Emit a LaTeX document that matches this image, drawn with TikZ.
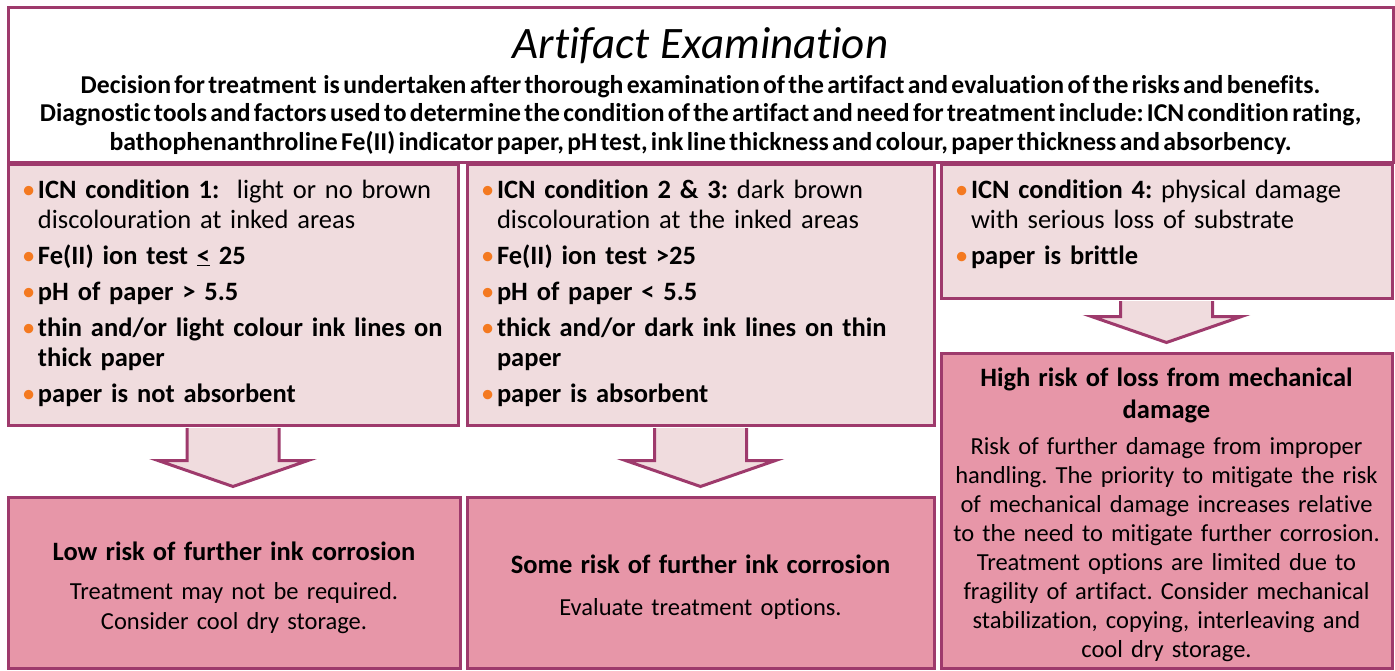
\documentclass[tikz,border=0pt]{standalone}
\usepackage{fontspec}
\setmainfont{Carlito}[Ligatures=NoCommon]
\usetikzlibrary{calc}
\definecolor{framepurple}{RGB}{158,58,108}
\definecolor{lightrose}{RGB}{240,220,222}
\definecolor{deeprose}{RGB}{231,150,168}
\definecolor{bulletorange}{RGB}{244,121,32}
\newcommand\condfont{\fontsize{26.5}{30}\selectfont\frenchspacing}
\newcommand\riskfont{\fontsize{24.5}{30}\selectfont\frenchspacing}
% one bullet line with hanging indent
\newcommand\itm[1]{\par\vspace{6pt}\noindent\hangindent=16pt\hangafter=1%
  \makebox[16pt][l]{\textcolor{bulletorange}{\textbullet}}#1\par}
\newcommand\firstitm[1]{\noindent\hangindent=16pt\hangafter=1%
  \makebox[16pt][l]{\textcolor{bulletorange}{\textbullet}}#1\par}
% block arrow from one box down to the next
\newcommand\flowarrow[2]{%
  \coordinate (#1tip) at ($(#1.south |- #2.north)+(0,-9)$);
  \path[blockarrow] ($(#1.south)+(-46,1.5)$) -- ($(#1tip)+(-46,-26)$)
    -- ($(#1tip)+(-75,-26)$) -- (#1tip) -- ($(#1tip)+(75,-26)$)
    -- ($(#1tip)+(46,-26)$) -- ($(#1.south)+(46,1.5)$);
}
\tikzset{
  exambox/.style={draw=framepurple, line width=3pt, fill=white,
    minimum width=1385pt, minimum height=155pt, text width=1375pt,
    align=center, inner sep=4pt},
  condbox/.style={draw=framepurple, line width=3pt, fill=lightrose,
    minimum height=260pt, inner xsep=14pt, inner ysep=4pt, align=left, font=\condfont},
  riskbox/.style={draw=framepurple, line width=3pt, fill=deeprose,
    inner xsep=4pt, align=center, font=\riskfont},
  blockarrow/.style={draw=framepurple, line width=3pt, fill=lightrose, line join=miter},
}
\begin{document}
\begin{tikzpicture}[x=1pt,y=-1pt]
  \useasboundingbox[fill=white] (0,0) rectangle (1395,671);
  % header
  \node[exambox] (exam) at (700.5,85.5) {%
    {\fontsize{45}{48}\selectfont\itshape Artifact\hspace{0.25em}Examination\par}\vspace{6pt}
    {\fontsize{25.7}{28.5}\selectfont\bfseries\frenchspacing
    Decision for treatment~ is undertaken after thorough examination of the artifact and evaluation of the risks and benefits.\\
    Diagnostic tools and factors used to determine the condition of the artifact and need for treatment include: ICN condition rating,\\
    bathophenanthroline Fe(II) indicator paper, pH test, ink line thickness and colour, paper thickness and absorbency.\par}\kern-11pt};
  % conditions
  \node[condbox, minimum width=450pt, text width=422pt] (cond1) at (233,295) {%
    \firstitm{\textbf{ICN condition 1:}~ light or no brown\newline discolouration at inked areas}
    \itm{\textbf{Fe(II) ion test \underline{<} 25}}
    \itm{\textbf{pH of paper > 5.5}}
    \itm{\textbf{thin and/or light colour ink lines on\newline thick paper}}
    \itm{\textbf{paper is not absorbent}}\kern4pt};
  \node[condbox, minimum width=467pt, text width=439pt] (cond2) at (700.5,295) {%
    \firstitm{\textbf{ICN condition 2 \& 3:} dark brown\newline discolouration at the inked areas}
    \itm{\textbf{Fe(II) ion test >25}}
    \itm{\textbf{pH of paper < 5.5}}
    \itm{\textbf{thick and/or dark ink lines on thin\newline paper}}
    \itm{\textbf{paper is absorbent}}\kern4pt};
  \node[condbox, minimum width=451pt, minimum height=133pt, text width=423pt] (cond3) at (1166.5,231.5) {%
    \firstitm{\textbf{ICN condition 4:} physical damage\newline with serious loss of substrate}
    \itm{\textbf{paper is brittle}}\kern14pt};
  % risks
  \node[riskbox, minimum width=452pt, minimum height=171pt, text width=440pt] (risk1) at (234,582.5) {%
    {\fontsize{26.5}{30}\selectfont\bfseries Low risk of further ink corrosion\par}\vspace{9pt}
    Treatment may not be required.\\ Consider cool dry storage.\par\kern-10pt};
  \node[riskbox, minimum width=467pt, minimum height=171pt, text width=455pt] (risk2) at (700.5,582.5) {%
    {\fontsize{26.5}{30}\selectfont\bfseries Some risk of further ink corrosion\par}\vspace{12pt}
    Evaluate treatment options.\par\kern-9pt};
  \node[riskbox, minimum width=451pt, minimum height=315pt, text width=440pt] (risk3) at (1166.5,510.5) {%
    {\fontsize{26.5}{32}\selectfont\bfseries High risk of loss from mechanical\\ damage\par}\vspace{7pt}
    {\fontsize{24.5}{29}\selectfont Risk of further damage from improper\\ handling. The priority to mitigate the risk\\
    of mechanical damage increases relative\\ to the need to mitigate further corrosion.\\
    Treatment options are limited due to\\ fragility of artifact. Consider mechanical\\
    stabilization, copying, interleaving and\\ cool dry storage.\par}\kern-9pt};
  % connectors
  \flowarrow{cond1}{risk1}
  \flowarrow{cond2}{risk2}
  \flowarrow{cond3}{risk3}
\end{tikzpicture}
\end{document}
